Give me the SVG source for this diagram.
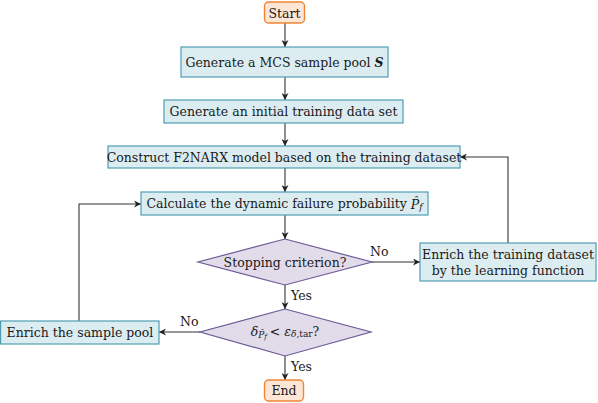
<svg xmlns="http://www.w3.org/2000/svg" width="598" height="403" viewBox="0 0 598 403">
<defs>
<marker id="arr" viewBox="0 0 10 10" refX="10" refY="5" markerWidth="7" markerHeight="7" markerUnits="userSpaceOnUse" orient="auto">
<path d="M0,0 L10,5 L0,10 L3,5 Z" fill="#222"/>
</marker>
<style>
.box{fill:#dcedf2;stroke:#4f9db3;stroke-width:1.2}
.dec{fill:#e2dcea;stroke:#6b5a98;stroke-width:1.2}
.term{fill:#fde6d6;stroke:#ee8535;stroke-width:1.4}
.t{font-family:'DejaVu Serif','Liberation Serif',serif;font-size:12.5px;fill:#1a1a1a;text-anchor:middle;dominant-baseline:central}
.lbl{font-family:'DejaVu Serif','Liberation Serif',serif;font-size:12.5px;fill:#1a1a1a}
.c{fill:none;stroke:#333;stroke-width:1.1;marker-end:url(#arr)}
</style>
</defs>
<rect width="598" height="403" fill="#fff"/>
<g id="connectors">
<path class="c" d="M285,23 V47"/>
<path class="c" d="M285,77 V100"/>
<path class="c" d="M285,123 V146"/>
<path class="c" d="M285,168 V192"/>
<path class="c" d="M285,215 V239"/>
<path class="c" d="M372,262 H420"/>
<path class="c" d="M508,243 V157 H460"/>
<path class="c" d="M285,285 V309"/>
<path class="c" d="M200,332 H159"/>
<path class="c" d="M79,321 V204 H141"/>
<path class="c" d="M285,356 V380"/>
<text class="lbl" x="370" y="256">No</text>
<text class="lbl" x="291" y="300">Yes</text>
<text class="lbl" x="180" y="326">No</text>
<text class="lbl" x="291" y="371">Yes</text>
</g>
<g id="start">
<rect class="term" x="264.5" y="2" width="40" height="21" rx="4"/>
<text class="t" x="284.5" y="13">Start</text>
</g>
<g id="pool">
<rect class="box" x="181" y="47" width="207" height="30"/>
<text class="t" x="284.5" y="62">Generate a MCS sample pool <tspan font-weight="bold" font-style="italic">S</tspan></text>
</g>
<g id="init">
<rect class="box" x="164" y="100" width="239" height="23"/>
<text class="t" x="283.5" y="111.5">Generate an initial training data set</text>
</g>
<g id="construct">
<rect class="box" x="108" y="146" width="352" height="22"/>
<text class="t" x="284" y="157">Construct F2NARX model based on the training dataset</text>
</g>
<g id="calc">
<rect class="box" x="141" y="192" width="287" height="23"/>
<text class="t" x="284.5" y="203.5">Calculate the dynamic failure probability <tspan font-style="italic">P̂</tspan><tspan font-style="italic" font-size="9" dy="3">f</tspan></text>
</g>
<g id="stop">
<polygon class="dec" points="285,239 372,262 285,285 198,262"/>
<text class="t" x="285" y="262">Stopping criterion?</text>
</g>
<g id="enrichTrain">
<rect class="box" x="420" y="243" width="176" height="38"/>
<text class="t" x="508" y="254">Enrich the training dataset</text>
<text class="t" x="508" y="270">by the learning function</text>
</g>
<g id="cov">
<polygon class="dec" points="285,309 371,332 285,356 200,332"/>
<text class="t" x="285" y="331"><tspan font-style="italic">δ</tspan><tspan font-style="italic" font-size="9" dy="4">P̂</tspan><tspan font-style="italic" font-size="7" dy="2">f</tspan><tspan dy="-6" dx="3">&lt; </tspan><tspan font-style="italic">ε</tspan><tspan font-size="9" dy="3"><tspan font-style="italic">δ</tspan>,tar</tspan><tspan dy="-3">?</tspan></text>
</g>
<g id="enrichPool">
<rect class="box" x="0.6" y="321" width="158.4" height="23"/>
<text class="t" x="80" y="332.5">Enrich the sample pool</text>
</g>
<g id="end">
<rect class="term" x="264.5" y="380" width="39" height="21" rx="4"/>
<text class="t" x="284" y="390.5">End</text>
</g>
</svg>
